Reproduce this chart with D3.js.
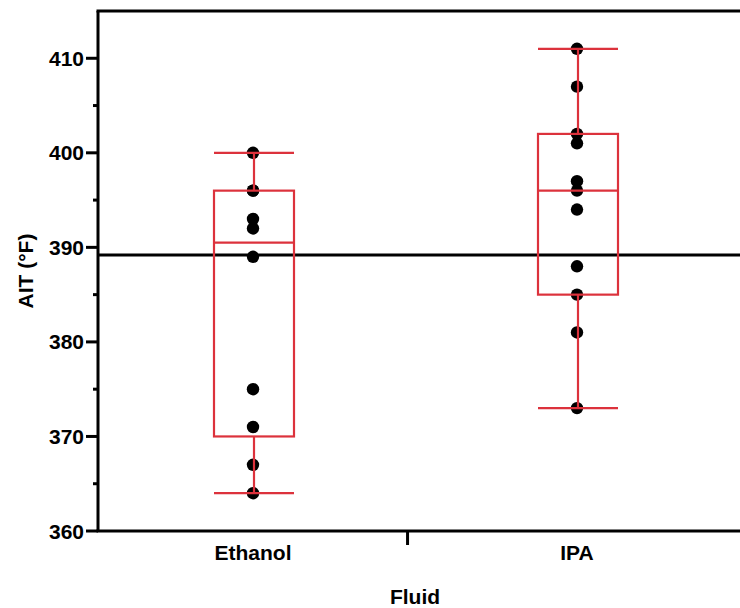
<!DOCTYPE html>
<html>
<head>
<meta charset="utf-8">
<script src="https://cdn.jsdelivr.net/npm/d3@7"></script>
<style>
    body { margin: 0; background: #fff; }
    svg text { font-family: "Liberation Sans", Arial, sans-serif; font-weight: bold; fill: #000; }
</style>
</head>
<body>
<svg id="chart" width="740" height="608"></svg>
<script>
(function() {
'use strict';

// data
var categories = ['Ethanol', 'IPA'];
var ethanolValues = [364, 367, 371, 375, 389, 392, 393, 396, 396, 400];
var ipaValues = [373, 381, 385, 388, 394, 396, 397, 401, 402, 407, 411];
var boxMin = [364, 373];
var boxQ1 = [370, 385];
var boxMedian = [390.5, 396];
var boxQ3 = [396, 402];
var boxMax = [400, 411];
var refLine = 389.2;
var yMajorTicks = [360, 370, 380, 390, 400, 410];
var yMinorTicks = [365, 375, 385, 395, 405];

var series = [ethanolValues, ipaValues];

var svg = d3.select('#chart');
var margin = {left: 98, top: 11, right: 0, bottom: 77};
var width = +svg.attr('width'),
    height = +svg.attr('height');
var red = '#dc323c';

var y = d3.scaleLinear()
    .domain([360, 415])
    .range([height - margin.bottom, margin.top]);

// category index -> x
var x = d3.scaleLinear()
    .domain([0, 1])
    .range([253, 577]);

var g = svg.append('g');

// reference line
g.append('line')
    .attr('x1', margin.left).attr('x2', width)
    .attr('y1', y(refLine)).attr('y2', y(refLine))
    .attr('stroke', '#000')
    .attr('stroke-width', 3);

// boxes
var boxW = 80;
categories.forEach(function(c, i) {
    var cx = x(i) + 1;
    var bg = g.append('g')
        .attr('fill', 'none')
        .attr('stroke', red)
        .attr('stroke-width', 2.2);
    bg.append('line')
        .attr('x1', cx).attr('x2', cx)
        .attr('y1', y(boxMax[i])).attr('y2', y(boxQ3[i]));
    bg.append('line')
        .attr('x1', cx).attr('x2', cx)
        .attr('y1', y(boxQ1[i])).attr('y2', y(boxMin[i]));
    bg.selectAll('line.cap')
        .data([boxMin[i], boxMax[i]])
        .enter()
        .append('line')
        .attr('class', 'cap')
        .attr('x1', cx - boxW / 2).attr('x2', cx + boxW / 2)
        .attr('y1', function(d) { return y(d); })
        .attr('y2', function(d) { return y(d); });
    bg.append('rect')
        .attr('x', cx - boxW / 2)
        .attr('y', y(boxQ3[i]))
        .attr('width', boxW)
        .attr('height', y(boxQ1[i]) - y(boxQ3[i]));
    bg.append('line')
        .attr('x1', cx - boxW / 2).attr('x2', cx + boxW / 2)
        .attr('y1', y(boxMedian[i])).attr('y2', y(boxMedian[i]));
});

// points (drawn under the box lines in the reference? lines pass over dots)
categories.forEach(function(c, i) {
    g.insert('g', ':nth-child(2)')
        .selectAll('circle')
        .data(series[i])
        .enter()
        .append('circle')
        .attr('cx', x(i))
        .attr('cy', function(d) { return y(d); })
        .attr('r', 6.2)
        .attr('fill', '#000');
});

// frame: top line
g.append('line')
    .attr('x1', margin.left - 1.5).attr('x2', width)
    .attr('y1', margin.top).attr('y2', margin.top)
    .attr('stroke', '#000')
    .attr('stroke-width', 3);

// y axis
var yAxis = svg.append('g')
    .attr('transform', 'translate(' + margin.left + ',0)');
yAxis.append('line')
    .attr('x1', 0).attr('x2', 0)
    .attr('y1', margin.top).attr('y2', y(360))
    .attr('stroke', '#000')
    .attr('stroke-width', 3);
yAxis.selectAll('line.major')
    .data(yMajorTicks)
    .enter()
    .append('line')
    .attr('class', 'major')
    .attr('x1', -12).attr('x2', 0)
    .attr('y1', function(d) { return y(d); })
    .attr('y2', function(d) { return y(d); })
    .attr('stroke', '#000')
    .attr('stroke-width', 3);
yAxis.selectAll('line.minor')
    .data(yMinorTicks)
    .enter()
    .append('line')
    .attr('class', 'minor')
    .attr('x1', -5).attr('x2', 0)
    .attr('y1', function(d) { return y(d); })
    .attr('y2', function(d) { return y(d); })
    .attr('stroke', '#000')
    .attr('stroke-width', 3);
yAxis.selectAll('text')
    .data(yMajorTicks)
    .enter()
    .append('text')
    .attr('x', -14)
    .attr('y', function(d) { return y(d); })
    .attr('dy', '0.36em')
    .attr('text-anchor', 'end')
    .attr('font-size', 21)
    .text(function(d) { return d; });

svg.append('text')
    .attr('transform', 'translate(33,' + ((margin.top + y(360)) / 2) + ') rotate(-90)')
    .attr('text-anchor', 'middle')
    .attr('font-size', 21)
    .text('AIT (°F)');

// x axis
var xAxis = svg.append('g')
    .attr('transform', 'translate(0,' + y(360) + ')');
xAxis.append('line')
    .attr('x1', margin.left - 1.5).attr('x2', width)
    .attr('y1', 0).attr('y2', 0)
    .attr('stroke', '#000')
    .attr('stroke-width', 3);
xAxis.append('line')
    .attr('x1', x(0.477)).attr('x2', x(0.477))
    .attr('y1', 0).attr('y2', 14)
    .attr('stroke', '#000')
    .attr('stroke-width', 3);
xAxis.selectAll('text')
    .data(categories)
    .enter()
    .append('text')
    .attr('x', function(d, i) { return x(i); })
    .attr('y', 29)
    .attr('text-anchor', 'middle')
    .attr('font-size', 21)
    .text(function(d) { return d; });

svg.append('text')
    .attr('x', x(0.5))
    .attr('y', 604)
    .attr('text-anchor', 'middle')
    .attr('font-size', 21)
    .text('Fluid');

})();
</script>
</body>
</html>
